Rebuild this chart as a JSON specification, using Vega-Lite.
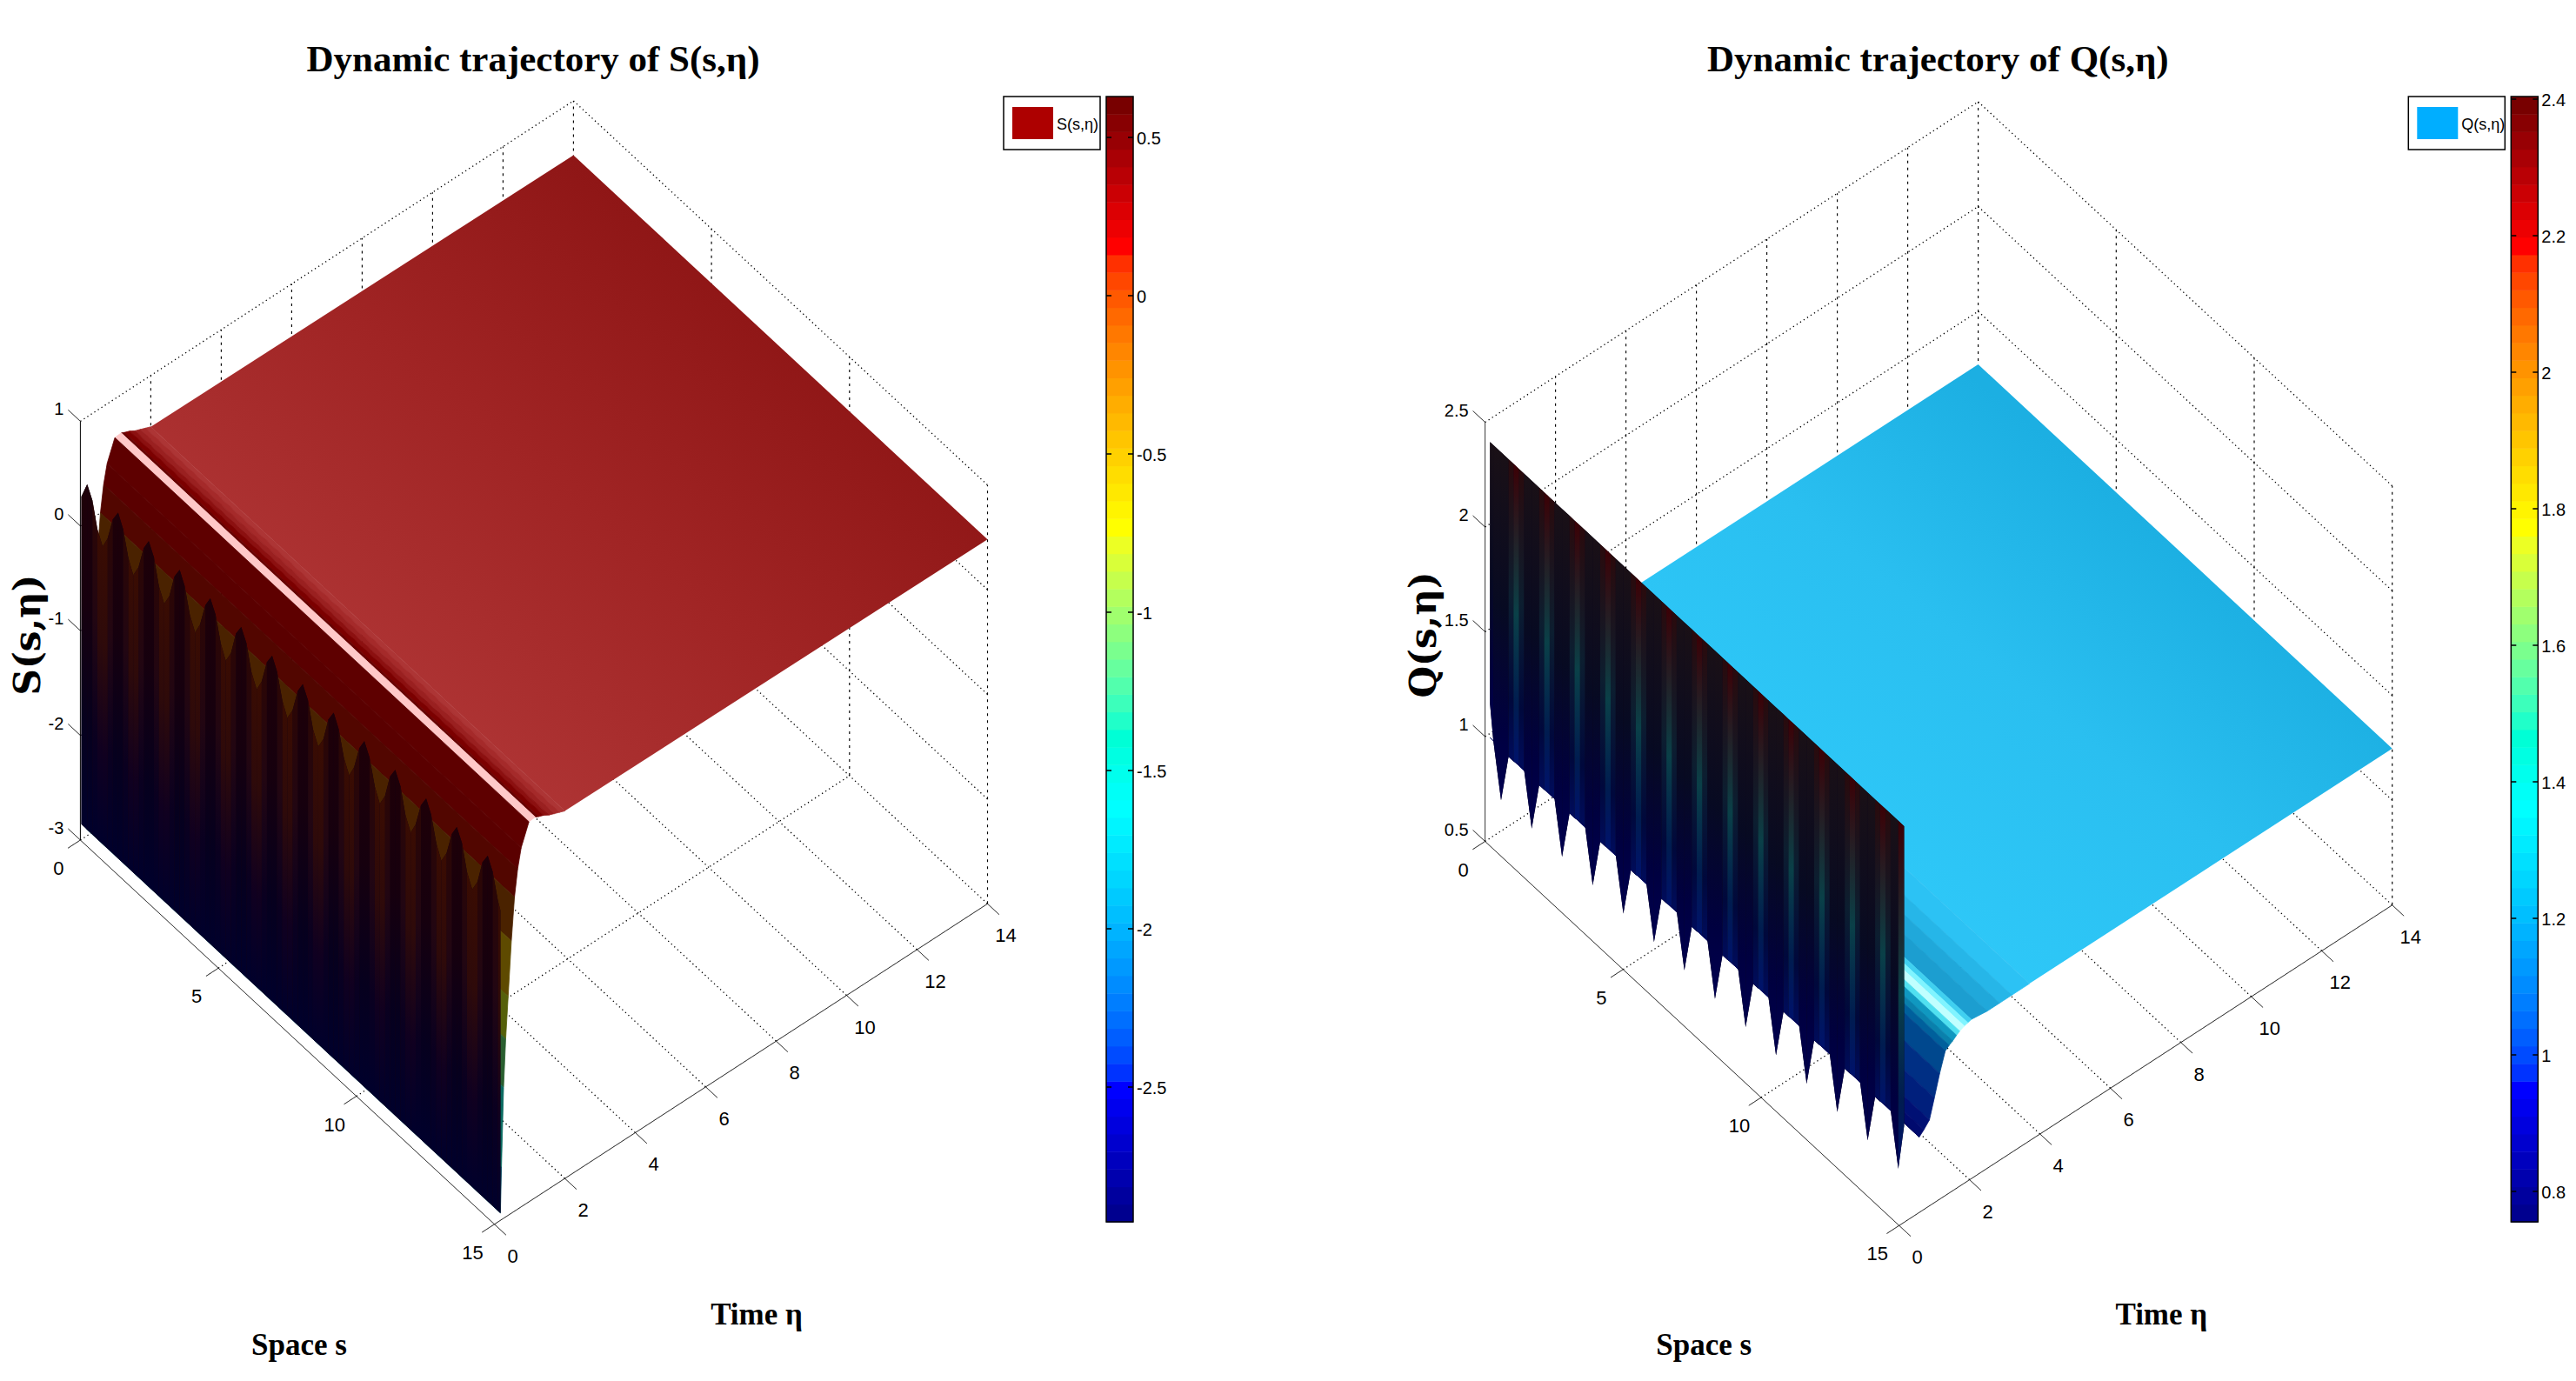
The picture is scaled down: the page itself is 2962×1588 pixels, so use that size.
{"$schema":"https://vega.github.io/schema/vega-lite/v6.json","width":2962,"height":1588,"autosize":{"type":"fit","contains":"padding"},"padding":0,"background":"white","config":{"view":{"stroke":null}},
"resolve":{"scale":{"fill":"independent","color":"independent","stroke":"independent"}},
"datasets":{
"panels":[{"p":"S","title":"Dynamic trajectory of S(s,η)","name":"S(s,η)","space":"Space s","time":"Time η"},{"p":"Q","title":"Dynamic trajectory of Q(s,η)","name":"Q(s,η)","space":"Space s","time":"Time η"}],
"segs":[
{"p":["S","Q"],"s":0,"e":2,"s2":15,"e2":2,"k":"o"},{"p":["S","Q"],"s":0,"e":4,"s2":15,"e2":4,"k":"o"},{"p":["S","Q"],"s":0,"e":6,"s2":15,"e2":6,"k":"o"},{"p":["S","Q"],"s":0,"e":8,"s2":15,"e2":8,"k":"o"},{"p":["S","Q"],"s":0,"e":10,"s2":15,"e2":10,"k":"o"},{"p":["S","Q"],"s":0,"e":12,"s2":15,"e2":12,"k":"o"},{"p":["S","Q"],"s":0,"e":14,"s2":15,"e2":14,"k":"o"},
{"p":["S","Q"],"s":0,"e":0,"s2":0,"e2":14,"k":"o"},{"p":["S","Q"],"s":5,"e":0,"s2":5,"e2":14,"k":"o"},{"p":["S","Q"],"s":10,"e":0,"s2":10,"e2":14,"k":"o"},
{"p":["S","Q"],"s":0,"e":2,"s2":0,"e2":2,"t":1,"k":"d"},{"p":["S","Q"],"s":0,"e":4,"s2":0,"e2":4,"t":1,"k":"d"},{"p":["S","Q"],"s":0,"e":6,"s2":0,"e2":6,"t":1,"k":"d"},{"p":["S","Q"],"s":0,"e":8,"s2":0,"e2":8,"t":1,"k":"d"},{"p":["S","Q"],"s":0,"e":10,"s2":0,"e2":10,"t":1,"k":"d"},{"p":["S","Q"],"s":0,"e":12,"s2":0,"e2":12,"t":1,"k":"d"},
{"p":["S","Q"],"s":0,"e":14,"s2":0,"e2":14,"t":1,"k":"d"},{"p":["S","Q"],"s":5,"e":14,"s2":5,"e2":14,"t":1,"k":"d"},{"p":["S","Q"],"s":10,"e":14,"s2":10,"e2":14,"t":1,"k":"d"},{"p":["S","Q"],"s":15,"e":14,"s2":15,"e2":14,"t":1,"k":"d"},
{"p":["S"],"s":0,"e":0,"s2":0,"e2":14,"z":1,"k":"o"},{"p":["S"],"s":0,"e":14,"s2":15,"e2":14,"z":1,"k":"o"},{"p":["S"],"s":0,"e":0,"s2":0,"e2":14,"z":0,"k":"o"},{"p":["S"],"s":0,"e":14,"s2":15,"e2":14,"z":0,"k":"o"},{"p":["S"],"s":0,"e":0,"s2":0,"e2":14,"z":-1,"k":"o"},{"p":["S"],"s":0,"e":14,"s2":15,"e2":14,"z":-1,"k":"o"},{"p":["S"],"s":0,"e":0,"s2":0,"e2":14,"z":-2,"k":"o"},{"p":["S"],"s":0,"e":14,"s2":15,"e2":14,"z":-2,"k":"o"},
{"p":["Q"],"s":0,"e":0,"s2":0,"e2":14,"z":2.5,"k":"o"},{"p":["Q"],"s":0,"e":14,"s2":15,"e2":14,"z":2.5,"k":"o"},{"p":["Q"],"s":0,"e":0,"s2":0,"e2":14,"z":2,"k":"o"},{"p":["Q"],"s":0,"e":14,"s2":15,"e2":14,"z":2,"k":"o"},{"p":["Q"],"s":0,"e":0,"s2":0,"e2":14,"z":1.5,"k":"o"},{"p":["Q"],"s":0,"e":14,"s2":15,"e2":14,"z":1.5,"k":"o"},{"p":["Q"],"s":0,"e":0,"s2":0,"e2":14,"z":1,"k":"o"},{"p":["Q"],"s":0,"e":14,"s2":15,"e2":14,"z":1,"k":"o"},
{"p":["S","Q"],"s":0,"e":0,"s2":15,"e2":0,"k":"l"},{"p":["S","Q"],"s":15,"e":0,"s2":15,"e2":14,"k":"l"},{"p":["S","Q"],"s":0,"e":0,"s2":0,"e2":0,"t":1,"k":"l"},
{"p":["S","Q"],"s":0,"e":0,"s2":0,"e2":-0.35,"k":"l"},{"p":["S","Q"],"s":5,"e":0,"s2":5,"e2":-0.35,"k":"l"},{"p":["S","Q"],"s":10,"e":0,"s2":10,"e2":-0.35,"k":"l"},{"p":["S","Q"],"s":15,"e":0,"s2":15,"e2":-0.35,"k":"l"},
{"p":["S","Q"],"s":15,"e":0,"s2":15.42,"e2":0,"k":"l"},{"p":["S","Q"],"s":15,"e":2,"s2":15.42,"e2":2,"k":"l"},{"p":["S","Q"],"s":15,"e":4,"s2":15.42,"e2":4,"k":"l"},{"p":["S","Q"],"s":15,"e":6,"s2":15.42,"e2":6,"k":"l"},{"p":["S","Q"],"s":15,"e":8,"s2":15.42,"e2":8,"k":"l"},{"p":["S","Q"],"s":15,"e":10,"s2":15.42,"e2":10,"k":"l"},{"p":["S","Q"],"s":15,"e":12,"s2":15.42,"e2":12,"k":"l"},{"p":["S","Q"],"s":15,"e":14,"s2":15.42,"e2":14,"k":"l"},
{"p":["S"],"s":0,"e":0,"s2":-0.44,"e2":0,"z":1,"k":"l"},{"p":["S"],"s":0,"e":0,"s2":-0.44,"e2":0,"z":0,"k":"l"},{"p":["S"],"s":0,"e":0,"s2":-0.44,"e2":0,"z":-1,"k":"l"},{"p":["S"],"s":0,"e":0,"s2":-0.44,"e2":0,"z":-2,"k":"l"},{"p":["S"],"s":0,"e":0,"s2":-0.44,"e2":0,"z":-3,"k":"l"},
{"p":["Q"],"s":0,"e":0,"s2":-0.44,"e2":0,"z":2.5,"k":"l"},{"p":["Q"],"s":0,"e":0,"s2":-0.44,"e2":0,"z":2,"k":"l"},{"p":["Q"],"s":0,"e":0,"s2":-0.44,"e2":0,"z":1.5,"k":"l"},{"p":["Q"],"s":0,"e":0,"s2":-0.44,"e2":0,"z":1,"k":"l"},{"p":["Q"],"s":0,"e":0,"s2":-0.44,"e2":0,"z":0.5,"k":"l"}
],
"labels":[
{"p":["S","Q"],"a":"e","s":15,"e":0,"t":"0"},{"p":["S","Q"],"a":"e","s":15,"e":2,"t":"2"},{"p":["S","Q"],"a":"e","s":15,"e":4,"t":"4"},{"p":["S","Q"],"a":"e","s":15,"e":6,"t":"6"},{"p":["S","Q"],"a":"e","s":15,"e":8,"t":"8"},{"p":["S","Q"],"a":"e","s":15,"e":10,"t":"10"},{"p":["S","Q"],"a":"e","s":15,"e":12,"t":"12"},{"p":["S","Q"],"a":"e","s":15,"e":14,"t":"14"},
{"p":["S","Q"],"a":"s","s":0,"e":0,"t":"0"},{"p":["S","Q"],"a":"s","s":5,"e":0,"t":"5"},{"p":["S","Q"],"a":"s","s":10,"e":0,"t":"10"},{"p":["S","Q"],"a":"s","s":15,"e":0,"t":"15"},
{"p":["S"],"a":"z","s":0,"e":0,"z":1,"t":"1"},{"p":["S"],"a":"z","s":0,"e":0,"z":0,"t":"0"},{"p":["S"],"a":"z","s":0,"e":0,"z":-1,"t":"-1"},{"p":["S"],"a":"z","s":0,"e":0,"z":-2,"t":"-2"},{"p":["S"],"a":"z","s":0,"e":0,"z":-3,"t":"-3"},
{"p":["Q"],"a":"z","s":0,"e":0,"z":2.5,"t":"2.5"},{"p":["Q"],"a":"z","s":0,"e":0,"z":2,"t":"2"},{"p":["Q"],"a":"z","s":0,"e":0,"z":1.5,"t":"1.5"},{"p":["Q"],"a":"z","s":0,"e":0,"z":1,"t":"1"},{"p":["Q"],"a":"z","s":0,"e":0,"z":0.5,"t":"0.5"}
],
"bands":[
{"p":"S","b":"PS","e0":14,"z0":0.48,"e1":2,"z1":0.51},{"p":"Q","b":"PQ","e0":14,"z0":1.247,"e1":3.7,"z1":1.25},
{"p":"S","b":"s17","e0":2,"z0":0.51,"e1":1.85,"z1":0.53},{"p":"S","b":"s16","e0":1.85,"z0":0.53,"e1":1.7,"z1":0.55},{"p":"S","b":"s15","e0":1.7,"z0":0.55,"e1":1.55,"z1":0.57},{"p":"S","b":"s14","e0":1.55,"z0":0.57,"e1":1.4,"z1":0.6},{"p":"S","b":"s13","e0":1.4,"z0":0.6,"e1":1.25,"z1":0.62},{"p":"S","b":"s12","e0":1.25,"z0":0.62,"e1":1.16,"z1":0.635},{"p":"S","b":"s11","e0":1.16,"z0":0.635,"e1":0.98,"z1":0.63},{"p":"S","b":"s10","e0":0.98,"z0":0.63,"e1":0.76,"z1":0.43},{"p":"S","b":"s9","e0":0.76,"z0":0.43,"e1":0.66,"z1":0.25},{"p":"S","b":"s8","e0":0.66,"z0":0.25,"e1":0.57,"z1":0},{"p":"S","b":"s7","e0":0.57,"z0":0,"e1":0.48,"z1":-0.4},{"p":"S","b":"s6","e0":0.48,"z0":-0.4,"e1":0.39,"z1":-0.91},{"p":"S","b":"s5","e0":0.39,"z0":-0.91,"e1":0.32,"z1":-1.3},{"p":"S","b":"s4","e0":0.32,"z0":-1.3,"e1":0.26,"z1":-1.75},{"p":"S","b":"s3","e0":0.26,"z0":-1.75,"e1":0.2,"z1":-2.5},{"p":"S","b":"s2","e0":0.2,"z0":-2.5,"e1":0.17,"z1":-2.93},
{"p":"Q","b":"q1","e0":3.7,"z0":1.25,"e1":3.2,"z1":1.25},{"p":"Q","b":"q2","e0":3.2,"z0":1.25,"e1":2.85,"z1":1.25},{"p":"Q","b":"q3","e0":2.85,"z0":1.25,"e1":2.5,"z1":1.25},{"p":"Q","b":"q4","e0":2.5,"z0":1.25,"e1":2.05,"z1":1.26},{"p":"Q","b":"q5","e0":2.05,"z0":1.26,"e1":1.95,"z1":1.255},{"p":"Q","b":"q6","e0":1.95,"z0":1.255,"e1":1.85,"z1":1.25},{"p":"Q","b":"q7","e0":1.85,"z0":1.25,"e1":1.72,"z1":1.24},{"p":"Q","b":"q8","e0":1.72,"z0":1.24,"e1":1.63,"z1":1.23},{"p":"Q","b":"q9","e0":1.63,"z0":1.23,"e1":1.52,"z1":1.215},{"p":"Q","b":"q10","e0":1.52,"z0":1.215,"e1":1.42,"z1":1.205},{"p":"Q","b":"q11","e0":1.42,"z0":1.205,"e1":1.31,"z1":1.19},{"p":"Q","b":"q12","e0":1.31,"z0":1.19,"e1":1.15,"z1":1.1},{"p":"Q","b":"q13","e0":1.15,"z0":1.1,"e1":1,"z1":1},{"p":"Q","b":"q14","e0":1,"z0":1,"e1":0.86,"z1":0.91},{"p":"Q","b":"q15","e0":0.86,"z0":0.91,"e1":0.7,"z1":0.88},{"p":"Q","b":"q16","e0":0.7,"z0":0.88,"e1":0.57,"z1":0.86},{"p":"Q","b":"q17","e0":0.57,"z0":0.86,"e1":0.14,"z1":0.98}
],
"wallS":[
{"g":0,"t":"a","s":[-0.18,0.03],"z":[0.2,0.37]},
{"g":1,"t":"a","s":[0.03,0.22],"z":[0.37,0.26]},{"g":2,"t":"m","s":[0.22,0.4],"z":[0.26,0.03]},{"g":3,"t":"b","s":[0.4,0.59],"z":[0.03,-0.09]},{"g":4,"t":"b","s":[0.59,0.77],"z":[-0.09,0.03]},{"g":5,"t":"m","s":[0.77,0.96],"z":[0.03,0.26]},{"g":6,"t":"a","s":[0.96,1.15],"z":[0.26,0.37]},
{"g":7,"t":"a","s":[1.15,1.33],"z":[0.37,0.26]},{"g":8,"t":"m","s":[1.33,1.52],"z":[0.26,0.03]},{"g":9,"t":"b","s":[1.52,1.7],"z":[0.03,-0.09]},{"g":10,"t":"b","s":[1.7,1.89],"z":[-0.09,0.03]},{"g":11,"t":"m","s":[1.89,2.08],"z":[0.03,0.26]},{"g":12,"t":"a","s":[2.08,2.26],"z":[0.26,0.37]},
{"g":13,"t":"a","s":[2.26,2.45],"z":[0.37,0.26]},{"g":14,"t":"m","s":[2.45,2.63],"z":[0.26,0.03]},{"g":15,"t":"b","s":[2.63,2.82],"z":[0.03,-0.09]},{"g":16,"t":"b","s":[2.82,3.01],"z":[-0.09,0.03]},{"g":17,"t":"m","s":[3.01,3.19],"z":[0.03,0.26]},{"g":18,"t":"a","s":[3.19,3.38],"z":[0.26,0.37]},
{"g":19,"t":"a","s":[3.38,3.56],"z":[0.37,0.26]},{"g":20,"t":"m","s":[3.56,3.75],"z":[0.26,0.03]},{"g":21,"t":"b","s":[3.75,3.94],"z":[0.03,-0.09]},{"g":22,"t":"b","s":[3.94,4.12],"z":[-0.09,0.03]},{"g":23,"t":"m","s":[4.12,4.31],"z":[0.03,0.26]},{"g":24,"t":"a","s":[4.31,4.49],"z":[0.26,0.37]},
{"g":25,"t":"a","s":[4.49,4.68],"z":[0.37,0.26]},{"g":26,"t":"m","s":[4.68,4.87],"z":[0.26,0.03]},{"g":27,"t":"b","s":[4.87,5.05],"z":[0.03,-0.09]},{"g":28,"t":"b","s":[5.05,5.24],"z":[-0.09,0.03]},{"g":29,"t":"m","s":[5.24,5.42],"z":[0.03,0.26]},{"g":30,"t":"a","s":[5.42,5.61],"z":[0.26,0.37]},
{"g":31,"t":"a","s":[5.61,5.8],"z":[0.37,0.26]},{"g":32,"t":"m","s":[5.8,5.98],"z":[0.26,0.03]},{"g":33,"t":"b","s":[5.98,6.17],"z":[0.03,-0.09]},{"g":34,"t":"b","s":[6.17,6.35],"z":[-0.09,0.03]},{"g":35,"t":"m","s":[6.35,6.54],"z":[0.03,0.26]},{"g":36,"t":"a","s":[6.54,6.73],"z":[0.26,0.37]},
{"g":37,"t":"a","s":[6.73,6.91],"z":[0.37,0.26]},{"g":38,"t":"m","s":[6.91,7.1],"z":[0.26,0.03]},{"g":39,"t":"b","s":[7.1,7.28],"z":[0.03,-0.09]},{"g":40,"t":"b","s":[7.28,7.47],"z":[-0.09,0.03]},{"g":41,"t":"m","s":[7.47,7.66],"z":[0.03,0.26]},{"g":42,"t":"a","s":[7.66,7.84],"z":[0.26,0.37]},
{"g":43,"t":"a","s":[7.84,8.03],"z":[0.37,0.26]},{"g":44,"t":"m","s":[8.03,8.21],"z":[0.26,0.03]},{"g":45,"t":"b","s":[8.21,8.4],"z":[0.03,-0.09]},{"g":46,"t":"b","s":[8.4,8.59],"z":[-0.09,0.03]},{"g":47,"t":"m","s":[8.59,8.77],"z":[0.03,0.26]},{"g":48,"t":"a","s":[8.77,8.96],"z":[0.26,0.37]},
{"g":49,"t":"a","s":[8.96,9.14],"z":[0.37,0.26]},{"g":50,"t":"m","s":[9.14,9.33],"z":[0.26,0.03]},{"g":51,"t":"b","s":[9.33,9.52],"z":[0.03,-0.09]},{"g":52,"t":"b","s":[9.52,9.7],"z":[-0.09,0.03]},{"g":53,"t":"m","s":[9.7,9.89],"z":[0.03,0.26]},{"g":54,"t":"a","s":[9.89,10.07],"z":[0.26,0.37]},
{"g":55,"t":"a","s":[10.07,10.26],"z":[0.37,0.26]},{"g":56,"t":"m","s":[10.26,10.45],"z":[0.26,0.03]},{"g":57,"t":"b","s":[10.45,10.63],"z":[0.03,-0.09]},{"g":58,"t":"b","s":[10.63,10.82],"z":[-0.09,0.03]},{"g":59,"t":"m","s":[10.82,11],"z":[0.03,0.26]},{"g":60,"t":"a","s":[11,11.19],"z":[0.26,0.37]},
{"g":61,"t":"a","s":[11.19,11.38],"z":[0.37,0.26]},{"g":62,"t":"m","s":[11.38,11.56],"z":[0.26,0.03]},{"g":63,"t":"b","s":[11.56,11.75],"z":[0.03,-0.09]},{"g":64,"t":"b","s":[11.75,11.93],"z":[-0.09,0.03]},{"g":65,"t":"m","s":[11.93,12.12],"z":[0.03,0.26]},{"g":66,"t":"a","s":[12.12,12.31],"z":[0.26,0.37]},
{"g":67,"t":"a","s":[12.31,12.49],"z":[0.37,0.26]},{"g":68,"t":"m","s":[12.49,12.68],"z":[0.26,0.03]},{"g":69,"t":"b","s":[12.68,12.86],"z":[0.03,-0.09]},{"g":70,"t":"b","s":[12.86,13.05],"z":[-0.09,0.03]},{"g":71,"t":"m","s":[13.05,13.24],"z":[0.03,0.26]},{"g":72,"t":"a","s":[13.24,13.42],"z":[0.26,0.37]},
{"g":73,"t":"a","s":[13.42,13.61],"z":[0.37,0.26]},{"g":74,"t":"m","s":[13.61,13.79],"z":[0.26,0.03]},{"g":75,"t":"b","s":[13.79,13.98],"z":[0.03,-0.09]},{"g":76,"t":"b","s":[13.98,14.17],"z":[-0.09,0.03]},{"g":77,"t":"m","s":[14.17,14.35],"z":[0.03,0.26]},{"g":78,"t":"a","s":[14.35,14.54],"z":[0.26,0.37]},
{"g":79,"t":"a","s":[14.54,14.72],"z":[0.37,0.26]},{"g":80,"t":"m","s":[14.72,14.91],"z":[0.26,0.03]},{"g":81,"t":"b","s":[14.91,15],"z":[0.03,-0.04]}
],
"wallQ":[
{"g":0,"t":"a","s":[0,0.12],"z":[1.14,0.98]},
{"g":1,"t":"a","s":[0.12,0.4],"z":[0.98,0.73]},{"g":2,"t":"a","s":[0.4,0.67],"z":[0.73,0.97]},{"g":3,"t":"m","s":[0.67,0.85],"z":[0.97,0.97]},{"g":4,"t":"c","s":[0.85,1.05],"z":[0.97,0.98]},{"g":5,"t":"m","s":[1.05,1.23],"z":[0.98,0.98]},
{"g":6,"t":"a","s":[1.23,1.51],"z":[0.98,0.73]},{"g":7,"t":"a","s":[1.51,1.78],"z":[0.73,0.97]},{"g":8,"t":"m","s":[1.78,1.96],"z":[0.97,0.97]},{"g":9,"t":"c","s":[1.96,2.16],"z":[0.97,0.98]},{"g":10,"t":"m","s":[2.16,2.33],"z":[0.98,0.98]},
{"g":11,"t":"a","s":[2.33,2.61],"z":[0.98,0.73]},{"g":12,"t":"a","s":[2.61,2.88],"z":[0.73,0.97]},{"g":13,"t":"m","s":[2.88,3.06],"z":[0.97,0.97]},{"g":14,"t":"c","s":[3.06,3.26],"z":[0.97,0.98]},{"g":15,"t":"m","s":[3.26,3.44],"z":[0.98,0.98]},
{"g":16,"t":"a","s":[3.44,3.72],"z":[0.98,0.73]},{"g":17,"t":"a","s":[3.72,3.99],"z":[0.73,0.97]},{"g":18,"t":"m","s":[3.99,4.17],"z":[0.97,0.97]},{"g":19,"t":"c","s":[4.17,4.37],"z":[0.97,0.98]},{"g":20,"t":"m","s":[4.37,4.55],"z":[0.98,0.98]},
{"g":21,"t":"a","s":[4.55,4.83],"z":[0.98,0.73]},{"g":22,"t":"a","s":[4.83,5.1],"z":[0.73,0.97]},{"g":23,"t":"m","s":[5.1,5.28],"z":[0.97,0.97]},{"g":24,"t":"c","s":[5.28,5.48],"z":[0.97,0.98]},{"g":25,"t":"m","s":[5.48,5.66],"z":[0.98,0.98]},
{"g":26,"t":"a","s":[5.66,5.94],"z":[0.98,0.73]},{"g":27,"t":"a","s":[5.94,6.21],"z":[0.73,0.97]},{"g":28,"t":"m","s":[6.21,6.39],"z":[0.97,0.97]},{"g":29,"t":"c","s":[6.39,6.59],"z":[0.97,0.98]},{"g":30,"t":"m","s":[6.59,6.76],"z":[0.98,0.98]},
{"g":31,"t":"a","s":[6.76,7.04],"z":[0.98,0.73]},{"g":32,"t":"a","s":[7.04,7.31],"z":[0.73,0.97]},{"g":33,"t":"m","s":[7.31,7.49],"z":[0.97,0.97]},{"g":34,"t":"c","s":[7.49,7.69],"z":[0.97,0.98]},{"g":35,"t":"m","s":[7.69,7.87],"z":[0.98,0.98]},
{"g":36,"t":"a","s":[7.87,8.15],"z":[0.98,0.73]},{"g":37,"t":"a","s":[8.15,8.42],"z":[0.73,0.97]},{"g":38,"t":"m","s":[8.42,8.6],"z":[0.97,0.97]},{"g":39,"t":"c","s":[8.6,8.8],"z":[0.97,0.98]},{"g":40,"t":"m","s":[8.8,8.98],"z":[0.98,0.98]},
{"g":41,"t":"a","s":[8.98,9.26],"z":[0.98,0.73]},{"g":42,"t":"a","s":[9.26,9.53],"z":[0.73,0.97]},{"g":43,"t":"m","s":[9.53,9.71],"z":[0.97,0.97]},{"g":44,"t":"c","s":[9.71,9.91],"z":[0.97,0.98]},{"g":45,"t":"m","s":[9.91,10.08],"z":[0.98,0.98]},
{"g":46,"t":"a","s":[10.08,10.36],"z":[0.98,0.73]},{"g":47,"t":"a","s":[10.36,10.63],"z":[0.73,0.97]},{"g":48,"t":"m","s":[10.63,10.81],"z":[0.97,0.97]},{"g":49,"t":"c","s":[10.81,11.01],"z":[0.97,0.98]},{"g":50,"t":"m","s":[11.01,11.19],"z":[0.98,0.98]},
{"g":51,"t":"a","s":[11.19,11.47],"z":[0.98,0.73]},{"g":52,"t":"a","s":[11.47,11.74],"z":[0.73,0.97]},{"g":53,"t":"m","s":[11.74,11.92],"z":[0.97,0.97]},{"g":54,"t":"c","s":[11.92,12.12],"z":[0.97,0.98]},{"g":55,"t":"m","s":[12.12,12.3],"z":[0.98,0.98]},
{"g":56,"t":"a","s":[12.3,12.58],"z":[0.98,0.73]},{"g":57,"t":"a","s":[12.58,12.85],"z":[0.73,0.97]},{"g":58,"t":"m","s":[12.85,13.03],"z":[0.97,0.97]},{"g":59,"t":"c","s":[13.03,13.23],"z":[0.97,0.98]},{"g":60,"t":"m","s":[13.23,13.4],"z":[0.98,0.98]},
{"g":61,"t":"a","s":[13.4,13.68],"z":[0.98,0.73]},{"g":62,"t":"a","s":[13.68,13.95],"z":[0.73,0.97]},{"g":63,"t":"m","s":[13.95,14.13],"z":[0.97,0.97]},{"g":64,"t":"c","s":[14.13,14.33],"z":[0.97,0.98]},{"g":65,"t":"m","s":[14.33,14.51],"z":[0.98,0.98]},
{"g":66,"t":"a","s":[14.51,14.79],"z":[0.98,0.73]},{"g":67,"t":"c","s":[14.79,15],"z":[0.73,0.96]}
],
"bar":[{"p":"S","l":[1,2,3,4,5,6,7,8,9,10,11,12,13,14,15,16,17,18,19,20,21,22,23,24,25,26,27,28,29,30,31,32,33,34,35,36,37,38,39,40,41,42,43,44,45,46,47,48,49,50,51,52,53,54,55,56,57,58,59,60,61,62,63,64]},{"p":"Q","l":[1,2,3,4,5,6,7,8,9,10,11,12,13,14,15,16,17,18,19,20,21,22,23,24,25,26,27,28,29,30,31,32,33,34,35,36,37,38,39,40,41,42,43,44,45,46,47,48,49,50,51,52,53,54,55,56,57,58,59,60,61,62,63,64]}],
"bt":[{"p":"S","v":0.5,"t":"0.5"},{"p":"S","v":0,"t":"0"},{"p":"S","v":-0.5,"t":"-0.5"},{"p":"S","v":-1,"t":"-1"},{"p":"S","v":-1.5,"t":"-1.5"},{"p":"S","v":-2,"t":"-2"},{"p":"S","v":-2.5,"t":"-2.5"},
{"p":"Q","v":2.4,"t":"2.4"},{"p":"Q","v":2.2,"t":"2.2"},{"p":"Q","v":2,"t":"2"},{"p":"Q","v":1.8,"t":"1.8"},{"p":"Q","v":1.6,"t":"1.6"},{"p":"Q","v":1.4,"t":"1.4"},{"p":"Q","v":1.2,"t":"1.2"},{"p":"Q","v":1,"t":"1"},{"p":"Q","v":0.8,"t":"0.8"}]
},
"layer":[
{"data":{"name":"segs"},"transform":[{"flatten":["p"]},{"calculate":"datum.p=='S'?92.4:1707.6","as":"ox"},{"calculate":"datum.p=='S'?966:967.5","as":"oy"},{"calculate":"datum.p=='S'?120.4:241","as":"kz"},{"calculate":"datum.p=='S'?-3:0.5","as":"zb"},{"calculate":"datum.p=='S'?1:2.5","as":"zt"},{"calculate":"isValid(datum.z)?datum.z:datum.zb","as":"za"},{"calculate":"datum.t?datum.zt:datum.za","as":"zc"},{"calculate":"datum.ox+31.74*datum.s+40.5*datum.e","as":"x"},{"calculate":"datum.oy+29.45*datum.s-26.32*datum.e-datum.kz*(datum.za-datum.zb)","as":"y"},{"calculate":"datum.ox+31.74*datum.s2+40.5*datum.e2","as":"x2"},{"calculate":"datum.oy+29.45*datum.s2-26.32*datum.e2-datum.kz*(datum.zc-datum.zb)","as":"y2"}],
"mark":{"type":"rule","color":"black"},
"encoding":{"x":{"field":"x","type":"quantitative","axis":null,"scale":{"domain":[0,2962],"nice":false,"zero":false}},"y":{"field":"y","type":"quantitative","axis":null,"scale":{"domain":[1588,0],"nice":false,"zero":false}},"x2":{"field":"x2"},"y2":{"field":"y2"},"strokeDash":{"field":"k","type":"nominal","legend":null,"scale":{"domain":["o","d","l"],"range":[[1.3,3.5],[3,5],[1,0]]}},"strokeWidth":{"field":"k","type":"nominal","legend":null,"scale":{"domain":["o","d","l"],"range":[1.3,1,1.4]}}}},
{"data":{"name":"bands"},"transform":[{"filter":"datum.b=='PS'"},{"calculate":"92.4+40.5*datum.e0","as":"ax"},{"calculate":"966-26.32*datum.e0-120.4*(datum.z0+3)","as":"ay"},{"calculate":"92.4+40.5*datum.e1","as":"cx"},{"calculate":"966-26.32*datum.e1-120.4*(datum.z1+3)","as":"cy"},{"calculate":"{type:'Feature',properties:{},geometry:{type:'Polygon',coordinates:[[[datum.ax,datum.ay],[datum.ax+476.1,datum.ay+441.75],[datum.cx+476.1,datum.cy+441.75],[datum.cx,datum.cy],[datum.ax,datum.ay]]]}}","as":"geo"}],
"projection":{"type":"identity","scale":1,"translate":[0,0]},
"mark":{"type":"geoshape","color":{"gradient":"linear","x1":0,"y1":1,"x2":1,"y2":0,"stops":[{"offset":0.2,"color":"#b03636"},{"offset":0.5,"color":"#a02424"},{"offset":0.75,"color":"#8f1616"}]}},
"encoding":{"shape":{"field":"geo","type":"geojson"}}},
{"data":{"name":"bands"},"transform":[{"filter":"datum.b=='PQ'"},{"calculate":"1707.6+40.5*datum.e0","as":"ax"},{"calculate":"967.5-26.32*datum.e0-241*(datum.z0-0.5)","as":"ay"},{"calculate":"1707.6+40.5*datum.e1","as":"cx"},{"calculate":"967.5-26.32*datum.e1-241*(datum.z1-0.5)","as":"cy"},{"calculate":"{type:'Feature',properties:{},geometry:{type:'Polygon',coordinates:[[[datum.ax,datum.ay],[datum.ax+476.1,datum.ay+441.75],[datum.cx+476.1,datum.cy+441.75],[datum.cx,datum.cy],[datum.ax,datum.ay]]]}}","as":"geo"}],
"projection":{"type":"identity","scale":1,"translate":[0,0]},
"mark":{"type":"geoshape","color":{"gradient":"linear","x1":0,"y1":1,"x2":1,"y2":0,"stops":[{"offset":0.25,"color":"#2ec8f8"},{"offset":0.5,"color":"#2abff0"},{"offset":0.72,"color":"#1cafe2"}]}},
"encoding":{"shape":{"field":"geo","type":"geojson"}}},
{"data":{"name":"bands"},"transform":[{"filter":"datum.b!='PS'&&datum.b!='PQ'"},{"calculate":"datum.p=='S'?92.4:1707.6","as":"ox"},{"calculate":"datum.p=='S'?966:967.5","as":"oy"},{"calculate":"datum.p=='S'?120.4:241","as":"kz"},{"calculate":"datum.p=='S'?-3:0.5","as":"zb"},{"calculate":"datum.ox+40.5*datum.e0","as":"ax"},{"calculate":"datum.oy-26.32*datum.e0-datum.kz*(datum.z0-datum.zb)","as":"ay"},{"calculate":"datum.ox+40.5*datum.e1","as":"cx"},{"calculate":"datum.oy-26.32*datum.e1-datum.kz*(datum.z1-datum.zb)","as":"cy"},{"calculate":"{type:'Feature',properties:{},geometry:{type:'Polygon',coordinates:[[[datum.ax,datum.ay],[datum.ax+476.1,datum.ay+441.75],[datum.cx+476.1,datum.cy+441.75],[datum.cx,datum.cy],[datum.ax,datum.ay]]]}}","as":"geo"}],
"projection":{"type":"identity","scale":1,"translate":[0,0]},
"mark":{"type":"geoshape","strokeWidth":0.8},
"encoding":{"shape":{"field":"geo","type":"geojson"},
"fill":{"field":"b","type":"nominal","legend":null,"scale":{"domain":["s17","s16","s15","s14","s13","s12","s11","s10","s9","s8","s7","s6","s5","s4","s3","s2","q1","q2","q3","q4","q5","q6","q7","q8","q9","q10","q11","q12","q13","q14","q15","q16","q17"],"range":["#ad3535","#a52a2a","#9a2020","#8c1010","#7c0000","#680000","#ffc8c8","#5e0000","#5a0000","#520600","#4a2200","#5e4a00","#55600a","#2a5f30","#0a6a60","#00405a","#2cc2f4","#26b6e8","#20a8da","#1c9ed0","#40d0f0","#80f4ff","#c0ffff","#50e0f0","#1098c0","#0a80ac","#00609c","#00488e","#002f84","#001f7c","#001074","#000a6e","#000a60"]}},
"stroke":{"field":"b","type":"nominal","legend":null,"scale":{"domain":["s17","s16","s15","s14","s13","s12","s11","s10","s9","s8","s7","s6","s5","s4","s3","s2","q1","q2","q3","q4","q5","q6","q7","q8","q9","q10","q11","q12","q13","q14","q15","q16","q17"],"range":["#ad3535","#a52a2a","#9a2020","#8c1010","#7c0000","#680000","#ffc8c8","#5e0000","#5a0000","#520600","#4a2200","#5e4a00","#55600a","#2a5f30","#0a6a60","#00405a","#2cc2f4","#26b6e8","#20a8da","#1c9ed0","#40d0f0","#80f4ff","#c0ffff","#50e0f0","#1098c0","#0a80ac","#00609c","#00488e","#002f84","#001f7c","#001074","#000a6e","#000a60"]}}}},
{"data":{"name":"wallS"},"transform":[{"flatten":["s","z"]},{"calculate":"99.3+31.74*datum.s","as":"x"},{"calculate":"961.5+29.45*datum.s-120.4*(datum.z+3)","as":"y"},{"calculate":"953.1+29.45*datum.s","as":"y2"}],
"mark":{"type":"area","color":"#12000f"},
"encoding":{"x":{"field":"x","type":"quantitative","axis":null,"scale":{"domain":[0,2962],"nice":false,"zero":false}},"y":{"field":"y","type":"quantitative","axis":null,"scale":{"domain":[1588,0],"nice":false,"zero":false}},"y2":{"field":"y2"}}},
{"data":{"name":"wallS"},"transform":[{"filter":"datum.t=='a'"},{"flatten":["s","z"]},{"calculate":"99.3+31.74*datum.s","as":"x"},{"calculate":"961.5+29.45*datum.s-120.4*(datum.z+3)","as":"y"},{"calculate":"953.1+29.45*datum.s","as":"y2"}],
"mark":{"type":"area","color":{"gradient":"linear","x1":0,"y1":0,"x2":0,"y2":1,"stops":[{"offset":0,"color":"#1e0008"},{"offset":0.35,"color":"#16000e"},{"offset":0.7,"color":"#06001e"},{"offset":1,"color":"#00002c"}]}},
"encoding":{"detail":{"field":"g"},"x":{"field":"x","type":"quantitative","axis":null,"scale":{"domain":[0,2962],"nice":false,"zero":false}},"y":{"field":"y","type":"quantitative","axis":null,"scale":{"domain":[1588,0],"nice":false,"zero":false}},"y2":{"field":"y2"}}},
{"data":{"name":"wallS"},"transform":[{"filter":"datum.t=='m'"},{"flatten":["s","z"]},{"calculate":"99.3+31.74*datum.s","as":"x"},{"calculate":"961.5+29.45*datum.s-120.4*(datum.z+3)","as":"y"},{"calculate":"953.1+29.45*datum.s","as":"y2"}],
"mark":{"type":"area","color":{"gradient":"linear","x1":0,"y1":0,"x2":0,"y2":1,"stops":[{"offset":0,"color":"#2c0604"},{"offset":0.35,"color":"#220612"},{"offset":0.7,"color":"#0a0020"},{"offset":1,"color":"#00002c"}]}},
"encoding":{"detail":{"field":"g"},"x":{"field":"x","type":"quantitative","axis":null,"scale":{"domain":[0,2962],"nice":false,"zero":false}},"y":{"field":"y","type":"quantitative","axis":null,"scale":{"domain":[1588,0],"nice":false,"zero":false}},"y2":{"field":"y2"}}},
{"data":{"name":"wallS"},"transform":[{"filter":"datum.t=='b'"},{"flatten":["s","z"]},{"calculate":"99.3+31.74*datum.s","as":"x"},{"calculate":"961.5+29.45*datum.s-120.4*(datum.z+3)","as":"y"},{"calculate":"953.1+29.45*datum.s","as":"y2"}],
"mark":{"type":"area","color":{"gradient":"linear","x1":0,"y1":0,"x2":0,"y2":1,"stops":[{"offset":0,"color":"#3a0c02"},{"offset":0.35,"color":"#2e0a0a"},{"offset":0.7,"color":"#100020"},{"offset":1,"color":"#00002c"}]}},
"encoding":{"detail":{"field":"g"},"x":{"field":"x","type":"quantitative","axis":null,"scale":{"domain":[0,2962],"nice":false,"zero":false}},"y":{"field":"y","type":"quantitative","axis":null,"scale":{"domain":[1588,0],"nice":false,"zero":false}},"y2":{"field":"y2"}}},
{"data":{"name":"wallQ"},"transform":[{"flatten":["s","z"]},{"calculate":"1713.3+31.74*datum.s","as":"x"},{"calculate":"508.3+29.45*datum.s","as":"y"},{"calculate":"963.8+29.45*datum.s-241*(datum.z-0.5)","as":"y2"}],
"mark":{"type":"area","color":"#0a0418"},
"encoding":{"x":{"field":"x","type":"quantitative","axis":null,"scale":{"domain":[0,2962],"nice":false,"zero":false}},"y":{"field":"y","type":"quantitative","axis":null,"scale":{"domain":[1588,0],"nice":false,"zero":false}},"y2":{"field":"y2"}}},
{"data":{"name":"wallQ"},"transform":[{"filter":"datum.t=='a'"},{"flatten":["s","z"]},{"calculate":"1713.3+31.74*datum.s","as":"x"},{"calculate":"508.3+29.45*datum.s","as":"y"},{"calculate":"963.8+29.45*datum.s-241*(datum.z-0.5)","as":"y2"}],
"mark":{"type":"area","color":{"gradient":"linear","x1":0,"y1":0,"x2":0,"y2":1,"stops":[{"offset":0,"color":"#1a1016"},{"offset":0.45,"color":"#070a22"},{"offset":0.8,"color":"#000040"},{"offset":1,"color":"#000050"}]}},
"encoding":{"detail":{"field":"g"},"x":{"field":"x","type":"quantitative","axis":null,"scale":{"domain":[0,2962],"nice":false,"zero":false}},"y":{"field":"y","type":"quantitative","axis":null,"scale":{"domain":[1588,0],"nice":false,"zero":false}},"y2":{"field":"y2"}}},
{"data":{"name":"wallQ"},"transform":[{"filter":"datum.t=='m'"},{"flatten":["s","z"]},{"calculate":"1713.3+31.74*datum.s","as":"x"},{"calculate":"508.3+29.45*datum.s","as":"y"},{"calculate":"963.8+29.45*datum.s-241*(datum.z-0.5)","as":"y2"}],
"mark":{"type":"area","color":{"gradient":"linear","x1":0,"y1":0,"x2":0,"y2":1,"stops":[{"offset":0,"color":"#2a0a0c"},{"offset":0.45,"color":"#0c1e30"},{"offset":0.8,"color":"#00083c"},{"offset":1,"color":"#000c5c"}]}},
"encoding":{"detail":{"field":"g"},"x":{"field":"x","type":"quantitative","axis":null,"scale":{"domain":[0,2962],"nice":false,"zero":false}},"y":{"field":"y","type":"quantitative","axis":null,"scale":{"domain":[1588,0],"nice":false,"zero":false}},"y2":{"field":"y2"}}},
{"data":{"name":"wallQ"},"transform":[{"filter":"datum.t=='c'"},{"flatten":["s","z"]},{"calculate":"1713.3+31.74*datum.s","as":"x"},{"calculate":"508.3+29.45*datum.s","as":"y"},{"calculate":"963.8+29.45*datum.s-241*(datum.z-0.5)","as":"y2"}],
"mark":{"type":"area","color":{"gradient":"linear","x1":0,"y1":0,"x2":0,"y2":1,"stops":[{"offset":0,"color":"#3c0005"},{"offset":0.5,"color":"#0a4048"},{"offset":0.8,"color":"#001c50"},{"offset":1,"color":"#00126c"}]}},
"encoding":{"detail":{"field":"g"},"x":{"field":"x","type":"quantitative","axis":null,"scale":{"domain":[0,2962],"nice":false,"zero":false}},"y":{"field":"y","type":"quantitative","axis":null,"scale":{"domain":[1588,0],"nice":false,"zero":false}},"y2":{"field":"y2"}}},
{"data":{"name":"bar"},"transform":[{"flatten":["l"]},{"calculate":"(datum.p=='S'?0:1615.3)","as":"off"},{"calculate":"datum.off+1272","as":"x"},{"calculate":"datum.off+1303","as":"x2"},{"calculate":"111+(64-datum.l)*20.22","as":"y"},{"calculate":"datum.y+20.7","as":"y2"}],
"mark":{"type":"rect"},
"encoding":{"x":{"field":"x","type":"quantitative","axis":null,"scale":{"domain":[0,2962],"nice":false,"zero":false}},"y":{"field":"y","type":"quantitative","axis":null,"scale":{"domain":[1588,0],"nice":false,"zero":false}},"x2":{"field":"x2"},"y2":{"field":"y2"},"color":{"field":"l","type":"quantitative","legend":null,"scale":{"domain":[1,8,24,40,56,64],"range":["#00008f","#0000ff","#00ffff","#ffff00","#ff0000","#780000"]}}}},
{"data":{"name":"panels"},"transform":[{"calculate":"(datum.p=='S'?0:1615.3)","as":"off"},{"calculate":"datum.off+1272","as":"x"},{"calculate":"datum.off+1303","as":"x2"},{"calculate":"111","as":"y"},{"calculate":"1405","as":"y2"}],
"mark":{"type":"rect","fillOpacity":0,"stroke":"black","strokeWidth":1.5},
"encoding":{"x":{"field":"x","type":"quantitative","axis":null,"scale":{"domain":[0,2962],"nice":false,"zero":false}},"y":{"field":"y","type":"quantitative","axis":null,"scale":{"domain":[1588,0],"nice":false,"zero":false}},"x2":{"field":"x2"},"y2":{"field":"y2"}}},
{"data":{"name":"bt"},"transform":[{"calculate":"(datum.p=='S'?0:1615.3)","as":"off"},{"calculate":"datum.off+1272","as":"x"},{"calculate":"datum.off+1278","as":"x2"},{"calculate":"datum.p=='S'?340-364*datum.v:114+(2.4-datum.v)*785","as":"y"}],
"mark":{"type":"rule","color":"black","strokeWidth":1.5},
"encoding":{"x":{"field":"x","type":"quantitative","axis":null,"scale":{"domain":[0,2962],"nice":false,"zero":false}},"y":{"field":"y","type":"quantitative","axis":null,"scale":{"domain":[1588,0],"nice":false,"zero":false}},"x2":{"field":"x2"}}},
{"data":{"name":"bt"},"transform":[{"calculate":"(datum.p=='S'?0:1615.3)","as":"off"},{"calculate":"datum.off+1297","as":"x"},{"calculate":"datum.off+1303","as":"x2"},{"calculate":"datum.p=='S'?340-364*datum.v:114+(2.4-datum.v)*785","as":"y"}],
"mark":{"type":"rule","color":"black","strokeWidth":1.5},
"encoding":{"x":{"field":"x","type":"quantitative","axis":null,"scale":{"domain":[0,2962],"nice":false,"zero":false}},"y":{"field":"y","type":"quantitative","axis":null,"scale":{"domain":[1588,0],"nice":false,"zero":false}},"x2":{"field":"x2"}}},
{"data":{"name":"bt"},"transform":[{"calculate":"(datum.p=='S'?0:1615.3)+1307","as":"x"},{"calculate":"datum.p=='S'?340-364*datum.v:114+(2.4-datum.v)*785","as":"y"}],
"mark":{"type":"text","font":"Liberation Sans","fontSize":20,"align":"left","baseline":"middle","dy":2,"color":"black"},
"encoding":{"x":{"field":"x","type":"quantitative","axis":null,"scale":{"domain":[0,2962],"nice":false,"zero":false}},"y":{"field":"y","type":"quantitative","axis":null,"scale":{"domain":[1588,0],"nice":false,"zero":false}},"text":{"field":"t"}}},
{"data":{"name":"panels"},"transform":[{"calculate":"(datum.p=='S'?0:1615.3)","as":"off"},{"calculate":"datum.off+1154","as":"x"},{"calculate":"datum.off+1265","as":"x2"},{"calculate":"111","as":"y"},{"calculate":"172","as":"y2"}],
"mark":{"type":"rect","fill":"white","stroke":"black","strokeWidth":1.5},
"encoding":{"x":{"field":"x","type":"quantitative","axis":null,"scale":{"domain":[0,2962],"nice":false,"zero":false}},"y":{"field":"y","type":"quantitative","axis":null,"scale":{"domain":[1588,0],"nice":false,"zero":false}},"x2":{"field":"x2"},"y2":{"field":"y2"}}},
{"data":{"name":"panels"},"transform":[{"calculate":"(datum.p=='S'?0:1615.3)","as":"off"},{"calculate":"datum.off+1164","as":"x"},{"calculate":"datum.off+1211","as":"x2"},{"calculate":"123","as":"y"},{"calculate":"160","as":"y2"}],
"mark":{"type":"rect"},
"encoding":{"x":{"field":"x","type":"quantitative","axis":null,"scale":{"domain":[0,2962],"nice":false,"zero":false}},"y":{"field":"y","type":"quantitative","axis":null,"scale":{"domain":[1588,0],"nice":false,"zero":false}},"x2":{"field":"x2"},"y2":{"field":"y2"},"fill":{"field":"p","type":"nominal","legend":null,"scale":{"domain":["S","Q"],"range":["#ad0000","#00aeff"]}}}},
{"data":{"name":"panels"},"transform":[{"calculate":"(datum.p=='S'?0:1615.3)+1215","as":"x"},{"calculate":"149","as":"y"}],
"mark":{"type":"text","font":"Liberation Sans","fontSize":18,"align":"left","baseline":"alphabetic","color":"black"},
"encoding":{"x":{"field":"x","type":"quantitative","axis":null,"scale":{"domain":[0,2962],"nice":false,"zero":false}},"y":{"field":"y","type":"quantitative","axis":null,"scale":{"domain":[1588,0],"nice":false,"zero":false}},"text":{"field":"name"}}},
{"data":{"name":"labels"},"transform":[{"filter":"datum.a=='e'"},{"flatten":["p"]},{"calculate":"(datum.p=='S'?92.4:1707.6)+31.74*datum.s+40.5*datum.e","as":"x"},{"calculate":"(datum.p=='S'?966:967.5)+29.45*datum.s-26.32*datum.e","as":"y"}],
"mark":{"type":"text","font":"Liberation Sans","fontSize":22,"align":"center","baseline":"middle","dx":21,"dy":37,"color":"black"},
"encoding":{"x":{"field":"x","type":"quantitative","axis":null,"scale":{"domain":[0,2962],"nice":false,"zero":false}},"y":{"field":"y","type":"quantitative","axis":null,"scale":{"domain":[1588,0],"nice":false,"zero":false}},"text":{"field":"t"}}},
{"data":{"name":"labels"},"transform":[{"filter":"datum.a=='s'"},{"flatten":["p"]},{"calculate":"(datum.p=='S'?92.4:1707.6)+31.74*datum.s+40.5*datum.e","as":"x"},{"calculate":"(datum.p=='S'?966:967.5)+29.45*datum.s-26.32*datum.e","as":"y"}],
"mark":{"type":"text","font":"Liberation Sans","fontSize":22,"align":"center","baseline":"middle","dx":-25,"dy":33,"color":"black"},
"encoding":{"x":{"field":"x","type":"quantitative","axis":null,"scale":{"domain":[0,2962],"nice":false,"zero":false}},"y":{"field":"y","type":"quantitative","axis":null,"scale":{"domain":[1588,0],"nice":false,"zero":false}},"text":{"field":"t"}}},
{"data":{"name":"labels"},"transform":[{"filter":"datum.a=='z'"},{"flatten":["p"]},{"calculate":"datum.p=='S'?92.4:1707.6","as":"x"},{"calculate":"datum.p=='S'?966-120.4*(datum.z+3):967.5-241*(datum.z-0.5)","as":"y"}],
"mark":{"type":"text","font":"Liberation Sans","fontSize":20,"align":"right","baseline":"middle","dx":-19,"dy":-13,"color":"black"},
"encoding":{"x":{"field":"x","type":"quantitative","axis":null,"scale":{"domain":[0,2962],"nice":false,"zero":false}},"y":{"field":"y","type":"quantitative","axis":null,"scale":{"domain":[1588,0],"nice":false,"zero":false}},"text":{"field":"t"}}},
{"data":{"name":"panels"},"transform":[{"calculate":"(datum.p=='S'?0:1615.3)+613","as":"x"},{"calculate":"82","as":"y"}],
"mark":{"type":"text","font":"Liberation Serif","fontSize":43,"fontWeight":"bold","align":"center","baseline":"alphabetic","color":"black"},
"encoding":{"x":{"field":"x","type":"quantitative","axis":null,"scale":{"domain":[0,2962],"nice":false,"zero":false}},"y":{"field":"y","type":"quantitative","axis":null,"scale":{"domain":[1588,0],"nice":false,"zero":false}},"text":{"field":"title"}}},
{"data":{"name":"panels"},"transform":[{"calculate":"(datum.p=='S'?0:1615.3)+344","as":"x"},{"calculate":"1558","as":"y"}],
"mark":{"type":"text","font":"Liberation Serif","fontSize":35,"fontWeight":"bold","align":"center","baseline":"alphabetic","color":"black"},
"encoding":{"x":{"field":"x","type":"quantitative","axis":null,"scale":{"domain":[0,2962],"nice":false,"zero":false}},"y":{"field":"y","type":"quantitative","axis":null,"scale":{"domain":[1588,0],"nice":false,"zero":false}},"text":{"field":"space"}}},
{"data":{"name":"panels"},"transform":[{"calculate":"(datum.p=='S'?0:1615.3)+870","as":"x"},{"calculate":"1523","as":"y"}],
"mark":{"type":"text","font":"Liberation Serif","fontSize":35,"fontWeight":"bold","align":"center","baseline":"alphabetic","color":"black"},
"encoding":{"x":{"field":"x","type":"quantitative","axis":null,"scale":{"domain":[0,2962],"nice":false,"zero":false}},"y":{"field":"y","type":"quantitative","axis":null,"scale":{"domain":[1588,0],"nice":false,"zero":false}},"text":{"field":"time"}}},
{"data":{"name":"panels"},"transform":[{"calculate":"(datum.p=='S'?33:1638)","as":"x"},{"calculate":"730","as":"y"}],
"mark":{"type":"text","font":"DejaVu Serif","fontSize":42,"fontWeight":"bold","angle":270,"align":"center","baseline":"middle","color":"black"},
"encoding":{"x":{"field":"x","type":"quantitative","axis":null,"scale":{"domain":[0,2962],"nice":false,"zero":false}},"y":{"field":"y","type":"quantitative","axis":null,"scale":{"domain":[1588,0],"nice":false,"zero":false}},"text":{"field":"name"}}}
]}
